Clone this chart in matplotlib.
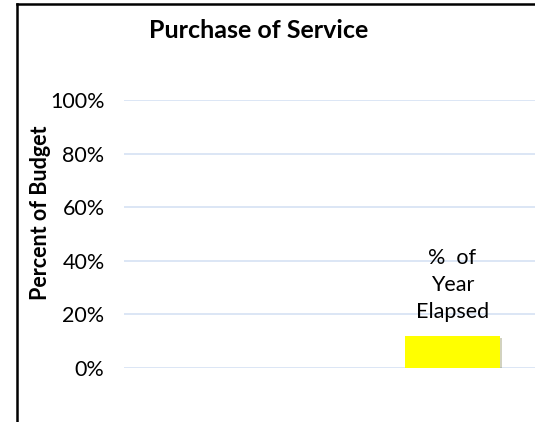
import matplotlib
matplotlib.use("Agg")
import matplotlib.pyplot as plt
import matplotlib.patheffects as pe
from matplotlib.lines import Line2D
from matplotlib.ticker import PercentFormatter

plt.rcParams["font.family"] = ["Lato", "DejaVu Sans"]

# Data
categories = ["", "", "%  of\nYear\nElapsed"]
values = [0.0, 0.0, 0.12]
yticks = [0.0, 0.2, 0.4, 0.6, 0.8, 1.0]

W, H = 535, 422
fig = plt.figure(figsize=(W / 100, H / 100), dpi=100)

# axes placed in pixel terms: plot area x 124..535, y 100..368 (top-down)
ax = fig.add_axes([124 / W, 1 - 368 / H, 411 / W, 268 / H])

pos = list(range(len(categories)))
bars = ax.bar(pos, values, width=0.72, color="#ffff00", zorder=3)
for b in bars:
    b.set_path_effects([pe.SimplePatchShadow(offset=(1.5, -1.5), alpha=0.25), pe.Normal()])

for x, v, lab in zip(pos, values, categories):
    if v > 0:
        ax.annotate(lab, (x, v), xytext=(0, 10), textcoords="offset points",
                    ha="center", va="bottom", fontsize=15.5, linespacing=1.43)

ax.set_xlim(-0.5, 2.63)
ax.set_ylim(0, 1.0)
ax.set_yticks(yticks)
ax.yaxis.set_major_formatter(PercentFormatter(1.0, decimals=0))
ax.set_xticks([])
ax.tick_params(axis="y", length=0, pad=14, labelsize=15.5)
ax.grid(axis="y", color="#d6e2f3", lw=1.2, zorder=0)
for s in ax.spines.values():
    s.set_visible(False)

ax.set_ylabel("Percent of Budget", fontsize=15.5, fontweight="bold")
ax.yaxis.set_label_coords((51 - 124) / 411, (368 - 213) / 268)

fig.text(259 / W, 1 - 30 / H, "Purchase of Service", ha="center", va="center",
         fontsize=18, fontweight="bold")

# outer chart frame (left and top edges visible)
fig.add_artist(Line2D([17 / W, 17 / W], [0, 1 - 4 / H], color="black", lw=1.8,
                      transform=fig.transFigure))
fig.add_artist(Line2D([17 / W, 1], [1 - 4 / H, 1 - 4 / H], color="black", lw=1.8,
                      transform=fig.transFigure))

fig.savefig("out.png", dpi=100)
